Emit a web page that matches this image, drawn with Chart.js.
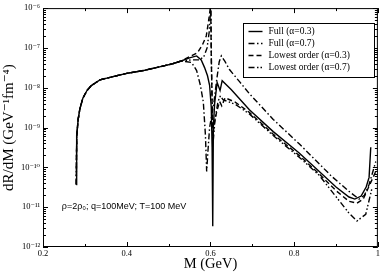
<!DOCTYPE html>
<html>
<head>
<meta charset="utf-8">
<script src="https://cdn.jsdelivr.net/npm/chart.js@4.4.1/dist/chart.umd.min.js"></script>
<style>
  html, body { margin: 0; padding: 0; background: #fff; }
  #wrap { width: 382px; height: 273px; }
</style>
</head>
<body>
<div id="wrap"><canvas id="mycanvas" width="382" height="273"></canvas></div>
<script>
// threshold rise, shared by all four curves (M in GeV, dR/dM)
var riseM = [0.2795, 0.2800, 0.2808, 0.284, 0.288, 0.295, 0.305, 0.315, 0.336, 0.360, 0.400, 0.440, 0.486, 0.510, 0.530];
var riseR = [3.7e-11, 2.0e-10, 6.3e-10, 1.6e-9, 2.9e-9, 5.4e-9, 8.5e-9, 1.12e-8, 1.58e-8, 1.82e-8, 2.3e-8, 2.7e-8, 3.5e-8, 4.0e-8, 4.7e-8];

// Full (alpha=0.3)
var full03M = [0.550, 0.567, 0.578, 0.586, 0.593, 0.598, 0.602, 0.604, 0.6055, 0.607, 0.610, 0.616, 0.623, 0.628, 0.650, 0.693, 0.750, 0.812, 0.860, 0.900, 0.931, 0.945, 0.960, 0.972, 0.979, 0.983];
var full03R = [5.6e-8, 6.3e-8, 5.0e-8, 3.2e-8, 2.0e-8, 1.15e-8, 3.2e-9, 3.2e-10, 3.3e-12, 1.0e-9, 4.0e-9, 1.35e-8, 8.5e-9, 1.5e-8, 8.9e-9, 2.8e-9, 7.9e-10, 2.3e-10, 7.9e-11, 3.2e-11, 1.8e-11, 1.6e-11, 1.9e-11, 3.2e-11, 5.6e-11, 3.2e-10];

// Full (alpha=0.7)
var full07M = [0.555, 0.567, 0.576, 0.583, 0.588, 0.591, 0.594, 0.598, 0.603, 0.608, 0.615, 0.621, 0.626, 0.635, 0.645, 0.670, 0.693, 0.750, 0.812, 0.890, 0.931, 0.955, 0.968, 0.979, 0.995];
var full07R = [4.3e-8, 2.7e-8, 1.15e-8, 4.4e-9, 6.5e-10, 7.9e-11, 2.5e-10, 1.0e-9, 2.0e-9, 4.0e-9, 1.6e-8, 4.5e-8, 6.3e-8, 4.5e-8, 2.9e-8, 1.4e-8, 7.1e-9, 1.6e-9, 3.9e-10, 5.9e-11, 2.5e-11, 1.6e-11, 2.0e-11, 3.7e-11, 1.4e-10];

// Lowest order (alpha=0.3)
var low03M = [0.550, 0.569, 0.581, 0.590, 0.595, 0.599, 0.6005, 0.602, 0.604, 0.606, 0.609, 0.615, 0.622, 0.627, 0.635, 0.660, 0.693, 0.750, 0.812, 0.860, 0.900, 0.931, 0.950, 0.965, 0.978, 0.995];
var low03R = [6.0e-8, 7.6e-8, 1.2e-7, 2.0e-7, 4.3e-7, 8.9e-7, 1.6e-6, 6.3e-8, 4.0e-9, 6.3e-10, 1.26e-9, 2.5e-9, 4.5e-9, 3.5e-9, 5.6e-9, 4.3e-9, 2.4e-9, 6.8e-10, 2.0e-10, 6.8e-11, 2.6e-11, 1.4e-11, 1.26e-11, 1.6e-11, 3.2e-11, 7.9e-11];

// Lowest order (alpha=0.7)
var low07M = [0.555, 0.575, 0.585, 0.592, 0.597, 0.600, 0.6008, 0.6025, 0.605, 0.607, 0.611, 0.618, 0.624, 0.630, 0.660, 0.693, 0.750, 0.812, 0.860, 0.890, 0.931, 0.950, 0.971, 0.986];
var low07R = [5.0e-8, 5.0e-8, 6.3e-8, 1.0e-7, 2.5e-7, 7.9e-7, 1.6e-6, 3.2e-8, 1.6e-9, 5.0e-10, 1.6e-9, 4.5e-9, 6.3e-9, 5.0e-9, 3.8e-9, 2.2e-9, 6.3e-10, 1.8e-10, 6.3e-11, 2.5e-11, 7.1e-12, 4.5e-12, 6.6e-12, 3.0e-11];

var xTicks = [0.2, 0.4, 0.6, 0.8, 1];
var yTicks = [1e-12, 1e-11, 1e-10, 1e-9, 1e-8, 1e-7, 1e-6];
var yTickLabels = ['10\u207B\u00B9\u00B2', '10\u207B\u00B9\u00B9', '10\u207B\u00B9\u2070', '10\u207B\u2079', '10\u207B\u2078', '10\u207B\u2077', '10\u207B\u2076'];

var seriesNames = ['Full (\u03B1=0.3)', 'Full (\u03B1=0.7)', 'Lowest order (\u03B1=0.3)', 'Lowest order (\u03B1=0.7)'];
var note = '\u03C1=2\u03C1\u2080; q=100MeV; T=100 MeV';

function pts(m, r) {
  var out = [];
  var allM = riseM.concat(m);
  var allR = riseR.concat(r);
  for (var i in allM) out.push({x: allM[i], y: allR[i]});
  return out;
}

var dashes = [[], [6, 2.5, 1.5, 2.5], [5, 3], [6, 2.5, 1.5, 2, 1.5, 2.5]];
var series = [[full03M, full03R], [full07M, full07R], [low03M, low03R], [low07M, low07R]];
var datasets = [];
for (var s = 0; s < series.length; s++) {
  datasets.push({
    label: seriesNames[s],
    data: pts(series[s][0], series[s][1]),
    borderColor: '#000',
    borderWidth: 1.4,
    borderDash: dashes[s],
    pointRadius: 0,
    tension: 0,
    showLine: true,
    fill: false
  });
}

var serif = '"Liberation Serif", "DejaVu Serif", serif';

// frame, inward ticks, legend box and the note
var decor = {
  id: 'decor',
  afterDraw: function(chart) {
    var c = chart.ctx, a = chart.chartArea;
    var xs = chart.scales.x, ys = chart.scales.y;
    c.save();
    c.strokeStyle = '#000';
    c.lineWidth = 1;
    c.strokeRect(a.left + 0.5, a.top + 0.5, a.right - a.left - 1, a.bottom - a.top - 1);
    c.beginPath();
    for (var k = 2; k <= 10; k++) {
      var v = k / 10, px = Math.round(xs.getPixelForValue(v)) + 0.5;
      var len = (k % 2 == 0) ? 5 : 3;
      c.moveTo(px, a.bottom); c.lineTo(px, a.bottom - len);
      c.moveTo(px, a.top); c.lineTo(px, a.top + len);
    }
    for (var e = -12; e <= -6; e++) {
      for (var j = 1; j <= 9; j++) {
        if (e == -6 && j > 1) break;
        var py = Math.round(ys.getPixelForValue(j * Math.pow(10, e))) + 0.5;
        var l = (j == 1) ? 5 : 3;
        c.moveTo(a.left, py); c.lineTo(a.left + l, py);
        c.moveTo(a.right, py); c.lineTo(a.right - l, py);
      }
    }
    c.stroke();

    // legend
    var bx = 243.5, by = 23.5, bw = 131, bh = 54;
    c.fillStyle = '#fff';
    c.fillRect(bx, by, bw, bh);
    c.strokeRect(bx, by, bw, bh);
    c.font = '9.5px ' + serif;
    c.textBaseline = 'middle';
    for (var d = 0; d < chart.data.datasets.length; d++) {
      var ds = chart.data.datasets[d];
      var ly = by + 8 + d * 12;
      c.beginPath();
      c.setLineDash(ds.borderDash);
      c.lineWidth = 1.4;
      c.moveTo(bx + 5, ly); c.lineTo(bx + 19, ly);
      c.stroke();
      c.setLineDash([]);
      c.fillStyle = '#000';
      c.fillText(ds.label, bx + 25, ly);
    }

    c.font = '9px "Liberation Sans", Arial, sans-serif';
    c.fillStyle = '#000';
    c.textBaseline = 'middle';
    c.fillText(note, xs.getPixelForValue(0.245), ys.getPixelForValue(1.05e-11));
    c.restore();
  }
};

var ctx = document.getElementById('mycanvas');
var chart = new Chart(ctx, {
  type: 'scatter',
  data: { datasets: datasets },
  options: {
    responsive: false,
    devicePixelRatio: 1,
    animation: false,
    layout: { padding: { top: 5, right: 3, left: 0, bottom: 0 } },
    plugins: { legend: { display: false }, tooltip: { enabled: false } },
    scales: {
      x: {
        type: 'linear',
        min: 0.2,
        max: 1,
        afterFit: function(scale) { scale.height = 26; },
        afterBuildTicks: function(scale) {
          scale.ticks = xTicks.map(function(v) { return {value: v}; });
        },
        ticks: {
          color: '#000',
          padding: 2,
          maxRotation: 0,
          font: { family: serif, size: 8.5 },
          callback: function(v) { return String(v); }
        },
        grid: { display: false, drawTicks: false, tickLength: 0 },
        border: { display: false },
        title: {
          display: true,
          text: 'M (GeV)',
          color: '#000',
          padding: 0,
          font: { family: serif, size: 14.5 }
        }
      },
      y: {
        type: 'logarithmic',
        min: 1e-12,
        max: 1e-6,
        afterFit: function(scale) { scale.width = 43; },
        afterBuildTicks: function(scale) {
          scale.ticks = yTicks.map(function(v) { return {value: v}; });
        },
        ticks: {
          color: '#000',
          padding: 3,
          font: { family: serif, size: 8.5 },
          callback: function(v, i) { return yTickLabels[i]; }
        },
        grid: { display: false, drawTicks: false, tickLength: 0 },
        border: { display: false },
        title: {
          display: true,
          text: 'dR/dM (GeV\u207B\u00B9fm\u207B\u2074)',
          color: '#000',
          padding: 0,
          font: { family: serif, size: 15 }
        }
      }
    }
  },
  plugins: [decor]
});
</script>
</body>
</html>
